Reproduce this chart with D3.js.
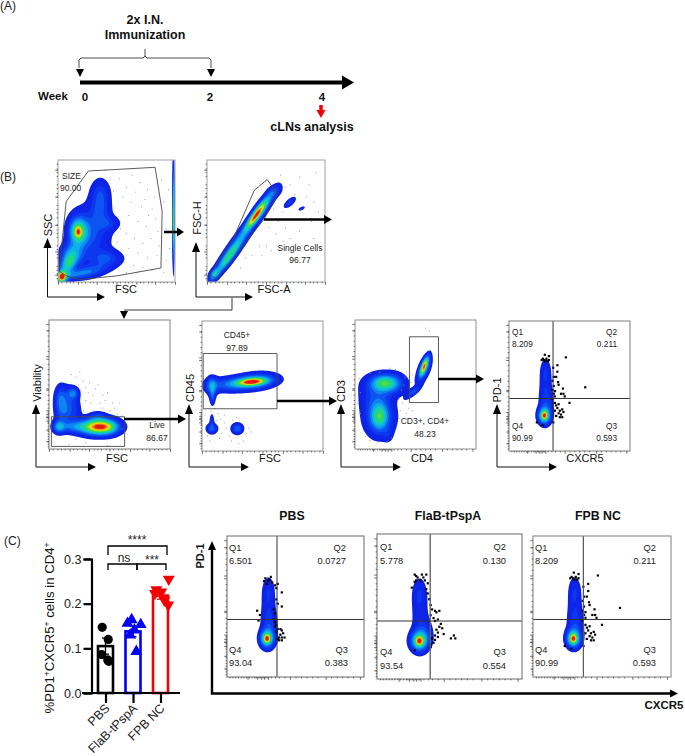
<!DOCTYPE html>
<html><head><meta charset="utf-8">
<script src="https://cdnjs.cloudflare.com/ajax/libs/d3/7.8.5/d3.min.js"></script>
<style>html,body{margin:0;padding:0;background:#fff}svg{display:block}text{font-family:"Liberation Sans",Arial,sans-serif}</style>
</head><body><svg id="c" width="685" height="756"></svg>
<script>
// ---------- bar chart data (panel C) ----------
const groups = ["PBS","FlaB-tPspA","FPB NC"];
const groupColors = ["#000000","#0000f5","#f50000"];
const means = [0.105,0.138,0.218];
const sems = [0.018,0.012,0.008];
const pbsPoints = [0.147,0.120,0.086,0.074,0.071];
const pbsJitter = [-0.12,0.1,-0.14,0.08,0.12];
const flabPoints = [0.164,0.156,0.153,0.141,0.130,0.093];
const flabJitter = [-0.05,-0.2,0.28,0.05,-0.1,0.12];
const fpbPoints = [0.255,0.231,0.226,0.223,0.197,0.208];
const fpbJitter = [0.3,-0.15,0.03,-0.2,0.28,0.14];
const yTicks = [0,0.1,0.2,0.3];

// ---------- flow plots: density components [x, y, sdA, sdB, weight, angle], percent of plot ----------
const sizeDensity = [[36,71,5.5,8.5,.2,0],[36,58,5.5,6,.1,0],[27,40,11,14,.22,0],[17,41,5,7.5,.5,0],[17,41,2,3,.32,0],[12,22,6,6,.36,0],[10,16,3.5,4,.24,0],[3,4,2.5,3,.9,0],[15,6,13,2.6,.2,10],[6,11,4,5,.3,0],[42,48,7,4,.13,0],[41,20,9,4.5,.16,0],[30,10,13,4.5,.14,15],[98.5,62,.5,24,.5,0],[98.5,40,.5,16,.3,0]];
const singletDensity = [[30,38,24,3.4,.26,53],[41,54,9,2,.62,53],[57,74,4.5,3,.12,30],[47,62,10,3,.28,53],[18,20,12,2.6,.4,53],[6,6,3.5,2.2,.3,53],[70,65,3.8,1.7,.2,40],[80,60,2,.9,.14,25]];
const liveDensity = [[41,17,8,3.5,.62,0],[40,17,12,5,.3,0],[50,17,5.5,3.8,.18,0],[8,17,3.2,3.4,.3,0],[20,17,9,3.2,.22,0],[14,39,5.5,7,.16,0],[20,43,3,3,.24,0],[9,38,3,7,.16,0],[13,28,5,6,.2,0],[22,30,3.5,6,.08,0],[40,25,4.5,2.5,.14,0]];
const cd45Density = [[41,53,7,1.6,.5,4],[41,53,10,2.6,.22,4],[46,54,11,4,.28,4],[25,51,14,3.8,.26,2],[8,50,3,4.5,.26,0],[8.5,42,1.6,4.5,.2,0],[8,17,3,2.6,.24,0],[8,23,1.2,3.5,.14,0],[29,17,3.2,2.8,.26,0]];
const cd3Density = [[24,50,11,6,.24,0],[24,51,6.5,3.8,.34,0],[33,51,5.5,5,.08,0],[20,25,8.5,10.5,.26,0],[20,25,4.5,6.5,.34,0],[15,39,8,7,.1,0],[27,11,2.6,3.5,.08,0],[57,62,7,3,.28,68],[57,64,5,1.5,.66,68],[48,44,5,1.6,.2,38]];
const pdDensity = [[29,27,3.4,4.2,.5,0],[29,27,1.6,2,.45,0],[30,45,3.8,13,.1,0],[30,61,2.9,6.5,.1,0],[31,36,3.8,8,.1,0]];
const pdDensityWide = [[29,26,4,4.6,.52,0],[29,26,1.7,2,.45,0],[29.5,42,4.2,13,.1,0],[29,59,3.2,7,.11,0],[33,32,3.8,6,.1,0]];

// ---------- gates, percent of plot ----------
const sizeGate = [[1,9],[7,66],[26,91],[83,94],[89,58],[88,11.5],[50,5],[18.5,2],[7,5]];
const singletGate = [[2,6],[22,35],[40,75],[51,84],[59,73],[59,70],[48,51],[8,2.5]];
const liveGate = [[2,2],[62.5,2],[62.5,25],[2,25]];
const cd45Gate = [[1,32.5],[62,32.5],[62,75],[1,75]];
const cd34Gate = [[45,36],[69,36],[69,87],[45,87]];

// ---------- scattered events, percent of plot ----------
const sizeEvents = [[52,85],[58,78],[63,88],[70,82],[76,76],[82,70],[88,84],[55,70],[62,66],[71,62],[80,60],[90,66],[60,55],[68,50],[75,46],[83,52],[92,44],[58,40],[65,36],[72,32],[79,36],[86,30],[60,28],[68,24],[76,20],[84,22],[92,18],[56,17],[64,14],[72,12],[80,10],[90,8],[50,33],[53,44],[47,75],[44,84],[40,92],[66,74],[74,68],[85,42],[94,76],[95,28],[67,8],[58,8],[77,55]];
const singletEvents = [[62,88],[70,80],[78,86],[86,80],[92,90],[66,78],[74,72],[84,70],[90,66],[60,50],[66,45],[72,52],[78,42],[88,50],[94,58],[58,40],[64,34],[50,30],[44,30],[38,22],[32,20],[46,22],[54,26],[70,36],[80,30],[28,12],[90,36],[56,60],[64,58],[52,45]];
const liveEvents = [[18,58],[22,56],[25,60],[28,53],[30,48],[33,52],[36,42],[38,47],[40,50],[42,36],[44,42],[46,38],[48,44],[50,30],[52,36],[54,32],[56,27],[58,36],[60,26],[34,36],[30,38],[26,46],[28,30],[36,30],[44,32],[60,16],[64,12],[22,8],[30,5],[48,3],[16,4],[24,50],[32,44]];
const cd45Events = [[7,31],[10,33],[13,29],[15,25],[12,24],[18,22],[20,18],[16,14],[14,10],[22,12],[24,8],[36,14],[38,18],[34,8],[30,6],[4,12],[2,28],[18,28],[25,24],[40,15],[28,26],[6,8]];
const cd3Events = [[3,55],[4,44],[2,36],[4,28],[8,10],[12,7],[18,5],[26,6],[30,9],[34,16],[36,24],[37,30],[36,40],[38,46],[40,50],[41,56],[42,60],[33,62],[28,63],[20,60],[12,59],[44,32],[47,30],[42,28],[46,52],[47,58],[58,94],[61,92],[45,40],[39,36]];
const pbsDots = [[32,71],[28,70],[31,69],[30,68],[27,68],[33,67],[29,66],[35,65],[37,66],[36,63],[40,60],[36,55],[40,50],[37,52],[34,48],[35,45],[22,47],[24,44],[23,40],[34,41],[35,39],[36,37],[35,36],[37,34],[36,32],[39,34],[40,33],[41,31],[39,30],[38,28],[40,28],[42,28],[37,27],[38,26],[40,26]];
const flabDots = [[26,72],[27,71],[31,72],[34,72],[28,70],[32,70],[27,68],[30,68],[33,68],[24,63],[26,67],[35,66],[34,62],[35,59],[36,55],[37,51],[38,48],[40,47],[41,46],[43,47],[37,44],[39,42],[40,40],[42,41],[44,38],[43,36],[45,35],[41,34],[42,32],[40,30],[42,29],[38,28],[40,27],[39,25],[37,24],[46,31],[51,28],[53,30],[54,28],[26,20],[37,22]];
const fpbDots = [[47,72],[63,49],[50,37],[40,66],[36.5,64],[40,61],[39,57],[37,57],[40.6,53],[41,51],[44.6,48],[45,44],[43,44],[46,42],[29.6,74],[33,73],[28,71],[31,71],[33,70],[27,70],[30,69],[32,69],[29,70],[36,54],[37,50],[36,47],[38,46],[37,44],[38,42],[36,40],[38,37],[39,35],[41,36],[40,33],[42,31],[44,32],[41,29],[43,28],[38,31],[45,30],[39,27],[42,26],[44,26],[23,22],[27.7,20],[36.6,22]];
const q6Dots = fpbDots;

// ---------- tick positions, percent of plot ----------
const linMajor = [0,17,33,50,67,83,100];
const linMinor = [3,7,10,13,20,23,27,30,37,40,43,47,53,57,60,63,70,73,77,80,87,90,93,97];
const bioMajor = [15,22,25,27,30,46,72,97];
const bioMinor = [2,4,6,8,10,12,14,16,18,20,21,23,24,26,28,29,32,35,38,42,50,54,58,62,66,76,80,84,88,92];
const yMajor = [6,25,47,70,92];

const levels = [.05,.09,.14,.2,.27,.34,.42,.5,.58,.66,.74,.82,.9];
const levelColors = ['#0a20e4','#0a28e8','#0a38f0','#0a54f2','#0a84f0','#0ab0e8','#12ccc0','#20d878','#50dc40','#a8e420','#f0d810','#f07810','#e81818'];

const svg = d3.select("#c");
const defs = svg.append("defs");
defs.append("filter").attr("id","soft").attr("x","-10%").attr("y","-10%").attr("width","120%").attr("height","120%")
  .append("feGaussianBlur").attr("stdDeviation",0.75);
defs.append("filter").attr("id","tiny").append("feGaussianBlur").attr("stdDeviation",0.25);

function T(x,y,s,o={}){
  const t = svg.append("text").attr("x",x).attr("y",y).text(s)
    .attr("font-size",o.size||8.5).attr("fill",o.fill||"#222")
    .attr("text-anchor",o.anchor||"start").attr("font-weight",o.bold?"bold":"normal");
  if(o.rot!=null) t.attr("transform",`rotate(${o.rot} ${x} ${y})`);
  return t;
}
function L(pts,o={}){
  return svg.append("path").attr("d",d3.line()(pts)).attr("fill","none")
    .attr("stroke",o.color||"#000").attr("stroke-width",o.w||1);
}
function arrow(x1,y1,x2,y2,w,hl,hw,color="#000"){
  const a=Math.atan2(y2-y1,x2-x1), c=Math.cos(a), s=Math.sin(a);
  const bx=x2-c*hl, by=y2-s*hl;
  L([[x1,y1],[bx,by]],{w,color});
  svg.append("path").attr("d",d3.line()([[x2,y2],[bx-s*hw,by+c*hw],[bx+s*hw,by-c*hw]])+"Z").attr("fill",color);
}
function elbowAxes(x,top,corner,right){
  L([[x,top+10],[x,corner],[right-8,corner]],{w:1,color:"#111"});
  arrow(x,top+10,x,top,1,10,4);
  arrow(right-8,corner,right,corner,1,8,4);
}

function flow(cfg){
  const [x0,y0,x1,y1]=cfg.box;
  const sx=d3.scaleLinear([0,100],[x0,x1]), sy=d3.scaleLinear([0,100],[y1,y0]);
  const g=svg.append("g");
  const n=250,res=n/100,vals=new Float64Array(n*n);
  cfg.comps.forEach(([cx,cy,sl,ss,w,ang])=>{
    const a=(ang||0)*Math.PI/180,c=Math.cos(a),s=Math.sin(a);
    for(let j=0;j<n;j++)for(let i=0;i<n;i++){
      const dx=i/res-cx,dy=j/res-cy;
      const u=(dx*c+dy*s)/sl,v=(-dx*s+dy*c)/ss;
      const e=.5*(u*u+v*v);
      if(e<12)vals[i+j*n]+=w*Math.exp(-e);
    }
  });
  const proj=d3.geoTransform({point(x,y){this.stream.point(sx(x/res),sy(y/res));}});
  const path=d3.geoPath(proj);
  const dens=g.append("g").attr("filter","url(#soft)");
  d3.contours().size([n,n]).thresholds(levels)(vals).forEach((c,i)=>{
    dens.append("path").attr("d",path(c)).attr("fill",levelColors[i]);
  });
  if(cfg.specks) g.append("g").selectAll("rect").data(cfg.specks).join("rect")
    .attr("x",d=>sx(d[0])).attr("y",d=>sy(d[1])).attr("width",1).attr("height",1).attr("fill","#9a9a9a");
  if(cfg.dots) g.append("g").attr("filter","url(#tiny)").selectAll("rect").data(cfg.dots).join("rect")
    .attr("x",d=>sx(d[0])-1.1).attr("y",d=>sy(d[1])-1.1).attr("width",2.2).attr("height",2.2).attr("fill","#000");
  if(cfg.gate) g.append("path").attr("d",d3.line().x(d=>sx(d[0])).y(d=>sy(d[1])).curve(cfg.gateCurve||d3.curveLinear)(cfg.gate)+"Z")
    .attr("fill","none").attr("stroke","#4a4a4a").attr("stroke-width",cfg.gw||.9);
  if(cfg.quad){
    L([[sx(cfg.quad[0]),y0],[sx(cfg.quad[0]),y1]],{color:cfg.qc||"#333",w:cfg.qw||1});
    L([[x0,sy(cfg.quad[1])],[x1,sy(cfg.quad[1])]],{color:"#333",w:1});
  }
  svg.append("rect").attr("x",x0).attr("y",y0).attr("width",x1-x0).attr("height",y1-y0)
    .attr("fill","none").attr("stroke",cfg.frame||"#8c8c8c").attr("stroke-width",cfg.fw||1.1);
  const ax=(maker,scale,vals,len,tr)=>{
    const a=svg.append("g").attr("transform",tr).call(maker(scale).tickValues(vals).tickSize(len).tickFormat(""));
    a.select(".domain").remove();
    a.selectAll("line").attr("stroke","#333").attr("stroke-width",.7);
  };
  const xmaj=cfg.bioX?bioMajor:linMajor,xmin=cfg.bioX?bioMinor:linMinor;
  const ymin=cfg.bioY?bioMinor:linMinor, ymaj=cfg.bioY?bioMajor.concat(yMajor):yMajor;
  ax(d3.axisBottom,sx,xmaj,2.8,`translate(0,${y1})`);
  ax(d3.axisBottom,sx,xmin,1.4,`translate(0,${y1})`);
  ax(d3.axisLeft,sy,ymaj,2.8,`translate(${x0},0)`);
  ax(d3.axisLeft,sy,ymin,1.4,`translate(${x0},0)`);
}

// ---------- Panel A ----------
T(0,10,"(A)",{size:12});
T(145,24,"2x I.N.",{size:12.5,bold:true,anchor:"middle",fill:"#111"});
T(145,39,"Immunization",{size:12.5,bold:true,anchor:"middle",fill:"#111"});
L([[79,68],[79,60],[81,58],[143,58],[145,56],[147,58],[209,58],[211,60],[211,68]],{w:.8,color:"#222"});
L([[145,56],[145,49]],{w:.8,color:"#222"});
[80,211].forEach(x=>svg.append("path").attr("d",d3.line()([[x-4,69],[x+4,69],[x,77]])+"Z").attr("fill","#000"));
arrow(80,82.5,354,82.5,4,12,7);
T(38,100,"Week",{size:11.5,bold:true,fill:"#111"});
T(85,101,"0",{size:11.5,bold:true,anchor:"middle",fill:"#111"});
T(210,101,"2",{size:11.5,bold:true,anchor:"middle",fill:"#111"});
T(322,101,"4",{size:11.5,bold:true,anchor:"middle",fill:"#111"});
arrow(321,105,321,118,3.5,8,4.5,"#f00000");
T(312,131,"cLNs analysis",{size:12.5,bold:true,anchor:"middle",fill:"#111"});

// ---------- Panel B ----------
T(0,181,"(B)",{size:12});
flow({box:[58,160,175,282],comps:sizeDensity,gate:sizeGate,specks:sizeEvents,frame:"#aaa"});
flow({box:[207,160,325,282],comps:singletDensity,gate:singletGate,specks:singletEvents,frame:"#aaa"});
flow({box:[49,320,170,449],comps:liveDensity,gate:liveGate,specks:liveEvents,bioY:true});
flow({box:[202,321,323,451],comps:cd45Density,gate:cd45Gate,specks:cd45Events,bioY:true,frame:"#a0a0a0"});
flow({box:[355,320,476,449],comps:cd3Density,gate:cd34Gate,specks:cd3Events,bioX:true,bioY:true,frame:"#999"});
flow({box:[509,321,630,451],comps:pdDensity,dots:q6Dots,quad:[36.4,40.4],bioX:true,bioY:true,frame:"#888"});

T(62,179,"SIZE",{size:8.5}); T(60,191,"90.00",{size:8.5});
T(300,251,"Single Cells",{size:8.5,anchor:"middle"}); T(300,263,"96.77",{size:8.5,anchor:"middle"});
T(157,428,"Live",{size:8.5,anchor:"middle"}); T(157,441,"86.67",{size:8.5,anchor:"middle"});
T(237,338,"CD45+",{size:8.5,anchor:"middle"}); T(237,351,"97.89",{size:8.5,anchor:"middle"});
T(425,424,"CD3+, CD4+",{size:8.5,anchor:"middle"}); T(425,437,"48.23",{size:8.5,anchor:"middle"});

[["Q1",512,335,"start"],["8.209",512,347,"start"],["Q2",617,335,"end"],["0.211",617,347,"end"],["Q4",512,429,"start"],["90.99",512,441,"start"],["Q3",617,429,"end"],["0.593",617,441,"end"]]
  .forEach(d=>T(d[1],d[2],d[0],{size:8.3,anchor:d[3]}));

const lab={size:11,fill:"#111",anchor:"middle"};
T(126,293,"FSC",lab); T(274,293,"FSC-A",lab);
T(117,462,"FSC",lab); T(270,462,"FSC",lab); T(422,462,"CD4",lab); T(585,462,"CXCR5",lab);
T(52,225,"SSC",{...lab,rot:-90}); T(201,218,"FSC-H",{...lab,rot:-90});
T(41,383,"Viability",{...lab,rot:-90}); T(194,388,"CD45",{...lab,rot:-90});
T(345,391,"CD3",{...lab,rot:-90}); T(501,390,"PD-1",{...lab,rot:-90});

elbowAxes(47.5,238,297,105);
elbowAxes(196,242,297,253);
elbowAxes(36,404,467,96);
elbowAxes(189,404,467,249);
elbowAxes(341,404,467,401);
elbowAxes(497,404,467,557);

arrow(164,232,184,232,2.5,7,4.5);
arrow(264,219.5,332,219.5,2.5,8,4.5);
arrow(124,419,186,419,2.5,8,4.5);
arrow(277,401,337,401,2.5,8,4.5);
arrow(438,379,484,379,2.5,8,4.5);
L([[232,298],[232,310],[124,310]],{w:.9,color:"#222"});
svg.append("path").attr("d",d3.line()([[120,311],[128,311],[124,319]])+"Z").attr("fill","#000");

// ---------- Panel C: bars ----------
T(4,545,"(C)",{size:12});
const yScale=d3.scaleLinear([0,0.3],[693,559]);
const xScale=d3.scaleLinear([0,2],[105.5,160.5]);
groups.forEach((g,i)=>{
  const cx=xScale(i);
  svg.append("rect").attr("x",cx-7.5).attr("y",yScale(means[i])).attr("width",15).attr("height",yScale(0)-yScale(means[i]))
    .attr("fill","#fff").attr("stroke",groupColors[i]).attr("stroke-width",2.6);
  L([[cx,yScale(means[i]-sems[i])],[cx,yScale(means[i]+sems[i])]],{w:1.3,color:groupColors[i]});
  L([[cx-3.5,yScale(means[i]+sems[i])],[cx+3.5,yScale(means[i]+sems[i])]],{w:1.3,color:groupColors[i]});
  L([[cx-3.5,yScale(means[i]-sems[i])],[cx+3.5,yScale(means[i]-sems[i])]],{w:1.3,color:groupColors[i]});
});
svg.append("g").selectAll("circle").data(pbsPoints).join("circle")
  .attr("cx",(d,i)=>xScale(0+pbsJitter[i])).attr("cy",d=>yScale(d)).attr("r",4.6).attr("fill","#000");
const upTri=d3.symbol(d3.symbolTriangle,62);
svg.append("g").selectAll("path").data(flabPoints).join("path").attr("d",upTri)
  .attr("transform",(d,i)=>`translate(${xScale(1+flabJitter[i])},${yScale(d)})`).attr("fill",groupColors[1]);
svg.append("g").selectAll("path").data(fpbPoints).join("path").attr("d",upTri)
  .attr("transform",(d,i)=>`translate(${xScale(2+fpbJitter[i])},${yScale(d)}) rotate(180)`).attr("fill",groupColors[2]);

const yAxis=svg.append("g").attr("transform","translate(91.5,0)")
  .call(d3.axisLeft(yScale).tickValues(yTicks).tickSize(8).tickPadding(2).tickFormat(d3.format(".1f")));
yAxis.select(".domain").attr("stroke-width",2.2).attr("stroke","#000");
yAxis.selectAll("line").attr("stroke-width",2.2).attr("stroke","#000");
yAxis.selectAll("text").attr("font-size",12.5).attr("font-family","Liberation Sans").attr("fill","#222");
L([[82,693],[180,693]],{w:2.2});
const xAxis=svg.append("g").attr("transform","translate(0,693)")
  .call(d3.axisBottom(xScale).tickValues([0,1,2]).tickSize(10).tickFormat(""));
xAxis.select(".domain").remove();
xAxis.selectAll("line").attr("stroke-width",2.2).attr("stroke","#000");
groups.forEach((g,i)=>{
  T(xScale(i)+5,709,g,{size:12.5,anchor:"end",rot:-45,fill:"#222"});
});
const yl=svg.append("text").attr("transform","translate(54,628) rotate(-90)").attr("text-anchor","middle").attr("font-size",13.2).attr("fill","#111");
yl.append("tspan").text("%PD1");
yl.append("tspan").text("+").attr("font-size",8.5).attr("dy",-4);
yl.append("tspan").text("CXCR5").attr("dy",4);
yl.append("tspan").text("+").attr("font-size",8.5).attr("dy",-4);
yl.append("tspan").text(" cells in CD4").attr("dy",4);
yl.append("tspan").text("+").attr("font-size",8.5).attr("dy",-4);
L([[108,555],[108,546],[167,546],[167,555]],{w:1.3});
L([[108,570],[108,564],[137,564],[137,570]],{w:1.3});
L([[137,570],[137,564],[166,564],[166,570]],{w:1.3});
T(137,544,"****",{size:12,anchor:"middle"});
T(124,562,"ns",{size:12,anchor:"middle"});
T(152,564,"***",{size:12,anchor:"middle"});

// ---------- Panel C: plots ----------
T(292,520,"PBS",{size:12.3,bold:true,anchor:"middle",fill:"#111"});
T(448,520,"FlaB-tPspA",{size:12.3,bold:true,anchor:"middle",fill:"#111"});
T(598,520,"FPB NC",{size:12.3,bold:true,anchor:"middle",fill:"#111"});
flow({box:[227,536,364,677],comps:pdDensity,dots:pbsDots,quad:[36.5,40.8],bioX:true,bioY:true,frame:"#777"});
flow({box:[377,534,522,679],comps:pdDensityWide,dots:flabDots,quad:[36.7,40],bioX:true,bioY:true,frame:"#777",qc:"#666",qw:1.4});
flow({box:[533,536,671,677],comps:pdDensity,dots:fpbDots,quad:[36.5,40.8],bioX:true,bioY:true,frame:"#888",qc:"#555",qw:1.2});
const qStyle={size:9.3};
[[229,346,348,551,564,653,666,"6.501","0.0727","93.04","0.383"],
 [380,506,506,550,564,655,669,"5.778","0.130","93.54","0.554"],
 [535,656,656,551,564,653,666,"8.209","0.211","90.99","0.593"]].forEach(d=>{
  T(d[0],d[3],"Q1",qStyle);T(d[0],d[4],d[7],qStyle);T(d[0],d[5],"Q4",qStyle);T(d[0],d[6],d[9],qStyle);
  T(d[1],d[3],"Q2",{...qStyle,anchor:"end"});T(d[1],d[4],d[8],{...qStyle,anchor:"end"});
  T(d[2],d[5],"Q3",{...qStyle,anchor:"end"});T(d[2],d[6],d[10],{...qStyle,anchor:"end"});
});
L([[212,550],[212,693.5],[672,693.5]],{w:2.4});
arrow(212,550,212,541,2.4,9,4);
arrow(670,693.5,678,693.5,2.4,8,4);
T(204,556,"PD-1",{size:11,bold:true,anchor:"middle",rot:-90,fill:"#111"});
T(664,709,"CXCR5",{size:11.5,bold:true,anchor:"middle",fill:"#111"});
</script></body></html>
